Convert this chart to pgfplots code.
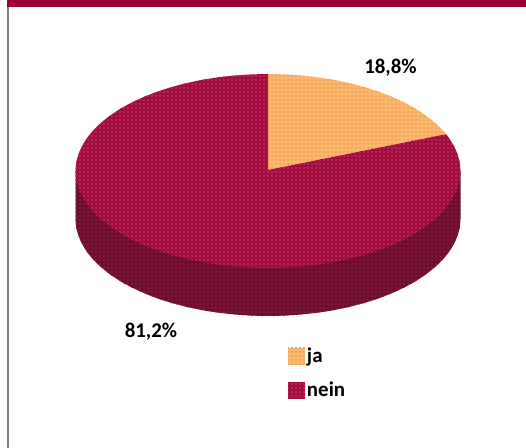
\documentclass[border=0pt]{standalone}
\usepackage{fontspec}
\setmainfont{Carlito}
\usepackage{pgfplots}
\usetikzlibrary{patterns}
\pgfplotsset{compat=1.18}
\definecolor{barred}{HTML}{990033}
\definecolor{topred}{HTML}{9C0F3E}
\definecolor{topdot}{HTML}{C42058}
\definecolor{sidered}{HTML}{6A0F2E}
\definecolor{sidedot}{HTML}{8A143C}
\definecolor{orangeja}{HTML}{FFB668}
\definecolor{orangedot}{HTML}{E8A868}
\definecolor{framegray}{HTML}{808080}
\pgfdeclarepatternformonly{ditherdots}{\pgfqpoint{-1.2bp}{-1.2bp}}{\pgfqpoint{1.2bp}{1.2bp}}{\pgfqpoint{4bp}{4bp}}{%
  \pgfpathrectangle{\pgfqpoint{-1bp}{-1bp}}{\pgfqpoint{2bp}{2bp}}\pgfusepath{fill}}
\begin{document}
\begin{tikzpicture}
\useasboundingbox (0,0) rectangle (526bp,448bp);
\begin{axis}[
  at={(0,0)}, anchor=south west,
  scale only axis, width=526bp, height=448bp,
  xmin=0, xmax=526, ymin=0, ymax=448, y dir=reverse,
  hide axis, clip=true,
  legend style={at={(axis cs:288,346)},anchor=north west,draw=none,fill=none,
    inner sep=0pt,outer sep=0pt,row sep=14bp,font=\fontsize{21}{21}\selectfont\bfseries,
    /tikz/every even column/.style={column sep=4bp}},
  legend cell align=left,
  legend image code/.code={\fill[#1] (0bp,-8.5bp) rectangle (17bp,8.5bp);},
]
% frame
\addplot[fill=barred,draw=none,forget plot] coordinates {(7,0)(526,0)(526,7)(7,7)} -- cycle;
\addplot[fill=framegray,draw=none,forget plot] coordinates {(7,7)(8.5,7)(8.5,448)(7,448)} -- cycle;
% side wall
\addplot[fill=sidered,draw=none,forget plot,postaction={pattern=ditherdots,pattern color=sidedot}] coordinates {
(460.5,171)(460.5,219)(459.8,227.5)(457.6,235.8)(453.9,244.1)(448.9,252.2)(442.5,260)(434.7,267.5)(425.7,274.6)(415.5,281.4)(404.1,287.6)(391.7,293.3)(378.4,298.5)(364.3,303)(349.4,306.9)(333.8,310.2)(317.8,312.7)(301.4,314.5)(284.8,315.6)(268,316)
(251.2,315.6)(234.6,314.5)(218.2,312.7)(202.2,310.2)(186.6,306.9)(171.7,303)(157.6,298.5)(144.3,293.3)(131.9,287.6)(120.5,281.4)(110.3,274.6)(101.3,267.5)(93.5,260)(87.1,252.2)(82.1,244.1)(78.4,235.8)(76.2,227.5)(75.5,219)(75.5,171)
} -- cycle;
% ja
\addplot[fill=orangeja,draw=none,postaction={pattern=ditherdots,pattern color=orangedot}] coordinates {
(268,170)(268,74)(284.8,74.4)(301.4,75.5)(317.8,77.3)(333.8,79.8)(349.4,83.1)(364.3,87)(378.4,91.5)(391.7,96.7)(404.1,102.4)(415.5,108.6)(425.7,115.4)(434.7,122.5)(442.5,130)(446,134.2)
} -- cycle;
\addlegendentry{ja}
% nein
\addplot[fill=topred,draw=none,postaction={pattern=ditherdots,pattern color=topdot}] coordinates {
(268,170)(446,134.2)(448.9,137.8)(453.9,145.9)(457.6,154.2)(459.8,162.5)(460.5,171)(459.8,179.5)(457.6,187.8)(453.9,196.1)(448.9,204.2)(442.5,212)(434.7,219.5)(425.7,226.6)(415.5,233.4)(404.1,239.6)(391.7,245.3)(378.4,250.5)(364.3,255)(349.4,258.9)(333.8,262.2)(317.8,264.7)(301.4,266.5)(284.8,267.6)(268,268)
(251.2,267.6)(234.6,266.5)(218.2,264.7)(202.2,262.2)(186.6,258.9)(171.7,255)(157.6,250.5)(144.3,245.3)(131.9,239.6)(120.5,233.4)(110.3,226.6)(101.3,219.5)(93.5,212)(87.1,204.2)(82.1,196.1)(78.4,187.8)(76.2,179.5)(75.5,171)(76.2,162.5)(78.4,154.2)(82.1,145.9)(87.1,137.8)(93.5,130)(101.3,122.5)(110.3,115.4)(120.5,108.6)(131.9,102.4)(144.3,96.7)(157.6,91.5)(171.7,87)(186.6,83.1)(202.2,79.8)(218.2,77.3)(234.6,75.5)(251.2,74.4)(268,74)
} -- cycle;
\addlegendentry{nein}
\node[font=\fontsize{21}{21}\selectfont\bfseries] at (axis cs:390.5,67.5) {18,8\%};
\node[font=\fontsize{21}{21}\selectfont\bfseries] at (axis cs:151,332) {81,2\%};
\end{axis}
\end{tikzpicture}
\end{document}
